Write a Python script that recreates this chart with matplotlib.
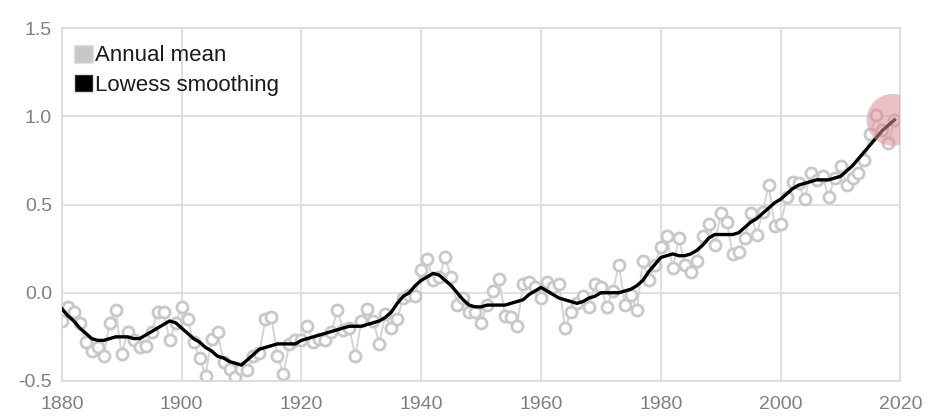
import numpy as np
import matplotlib.pyplot as plt
from matplotlib.patches import Patch

plt.rcParams['font.family'] = ['Liberation Sans', 'DejaVu Sans']

years = list(range(1880, 2020))

annual_mean = [
    -0.16, -0.08, -0.11, -0.17, -0.28, -0.33, -0.31, -0.36, -0.17, -0.10,
    -0.35, -0.22, -0.27, -0.31, -0.30, -0.22, -0.11, -0.11, -0.27, -0.17,
    -0.08, -0.15, -0.28, -0.37, -0.47, -0.26, -0.22, -0.39, -0.43, -0.48,
    -0.43, -0.44, -0.36, -0.34, -0.15, -0.14, -0.36, -0.46, -0.29, -0.27,
    -0.27, -0.19, -0.28, -0.26, -0.27, -0.22, -0.10, -0.21, -0.20, -0.36,
    -0.16, -0.09, -0.16, -0.29, -0.12, -0.20, -0.15, -0.03, -0.01, -0.02,
    0.13, 0.19, 0.07, 0.09, 0.20, 0.09, -0.07, -0.03, -0.11, -0.11,
    -0.17, -0.07, 0.01, 0.08, -0.13, -0.14, -0.19, 0.05, 0.06, 0.03,
    -0.03, 0.06, 0.03, 0.05, -0.20, -0.11, -0.06, -0.02, -0.08, 0.05,
    0.03, -0.08, 0.01, 0.16, -0.07, -0.01, -0.10, 0.18, 0.07, 0.16,
    0.26, 0.32, 0.14, 0.31, 0.16, 0.12, 0.18, 0.32, 0.39, 0.27,
    0.45, 0.40, 0.22, 0.23, 0.31, 0.45, 0.33, 0.46, 0.61, 0.38,
    0.39, 0.54, 0.63, 0.62, 0.53, 0.68, 0.64, 0.66, 0.54, 0.65,
    0.72, 0.61, 0.65, 0.68, 0.75, 0.90, 1.01, 0.92, 0.85, 0.98,
]

lowess = [
    -0.09, -0.13, -0.16, -0.20, -0.23, -0.26, -0.27, -0.27, -0.26, -0.25,
    -0.25, -0.25, -0.26, -0.26, -0.24, -0.22, -0.20, -0.18, -0.16, -0.17,
    -0.20, -0.23, -0.26, -0.28, -0.31, -0.33, -0.36, -0.37, -0.39, -0.40,
    -0.41, -0.38, -0.35, -0.32, -0.31, -0.30, -0.29, -0.29, -0.29, -0.29,
    -0.27, -0.26, -0.25, -0.24, -0.23, -0.22, -0.21, -0.20, -0.19, -0.19,
    -0.19, -0.18, -0.17, -0.16, -0.14, -0.11, -0.06, -0.02, 0.00, 0.04,
    0.07, 0.09, 0.11, 0.10, 0.07, 0.04, 0.00, -0.04, -0.07, -0.08,
    -0.08, -0.07, -0.07, -0.07, -0.07, -0.06, -0.05, -0.04, -0.01, 0.01,
    0.03, 0.01, -0.01, -0.03, -0.04, -0.05, -0.06, -0.05, -0.03, -0.02,
    0.00, 0.00, 0.00, 0.00, 0.01, 0.02, 0.04, 0.07, 0.12, 0.16,
    0.20, 0.21, 0.22, 0.21, 0.21, 0.22, 0.24, 0.27, 0.31, 0.33,
    0.33, 0.33, 0.33, 0.34, 0.37, 0.40, 0.42, 0.45, 0.48, 0.51,
    0.53, 0.56, 0.59, 0.61, 0.62, 0.63, 0.64, 0.64, 0.64, 0.65,
    0.66, 0.69, 0.72, 0.76, 0.80, 0.84, 0.88, 0.92, 0.95, 0.98,
]

x_ticks = [1880, 1900, 1920, 1940, 1960, 1980, 2000, 2020]
y_ticks = [-0.5, 0.0, 0.5, 1.0, 1.5]

fig = plt.figure(figsize=(9.36, 4.2), dpi=100)
ax = fig.add_axes([0.066, 0.093, 0.896, 0.84])

# annual mean: open grey circles joined by a faint line
ax.plot(years, annual_mean, color='#d4d4d4', lw=1.4, zorder=2,
        marker='o', ms=8, mfc='white', mec='#c8c8c8', mew=2.0)
# lowess smoothing
ax.plot(years, lowess, color='black', lw=2.4, zorder=3)
# highlight of the latest year
ax.scatter([years[-1] - 0.3], [lowess[-1]], s=1400, color='#dc8f96',
           alpha=0.55, edgecolors='none', zorder=4)

ax.set_xlim(1880, 2020)
ax.set_ylim(-0.5, 1.5)
ax.set_xticks(x_ticks)
ax.set_yticks(y_ticks)
ax.set_yticklabels([f'{v:.1f}' for v in y_ticks])
ax.grid(True, color='#dadada', lw=1.2)
ax.set_axisbelow(True)
for s in ax.spines.values():
    s.set_color('#dadada')
    s.set_linewidth(1.2)
ax.tick_params(length=0, labelsize=14, labelcolor='#808080')
ax.tick_params(axis='x', pad=11)
ax.tick_params(axis='y', pad=7)

handles = [Patch(facecolor='#c8c8c8', edgecolor='#e2e2e2', label='Annual mean'),
           Patch(facecolor='black', edgecolor='#e2e2e2', label='Lowess smoothing')]
ax.legend(handles=handles, loc='upper left', frameon=False, fontsize=16,
          handlelength=0.85, handleheight=0.85, handletextpad=0.1,
          borderaxespad=0.35, borderpad=0.4, labelspacing=0.35,
          labelcolor='#1a1a1a', bbox_to_anchor=(-0.005, 1.0))

fig.savefig('out.png', dpi=100)
